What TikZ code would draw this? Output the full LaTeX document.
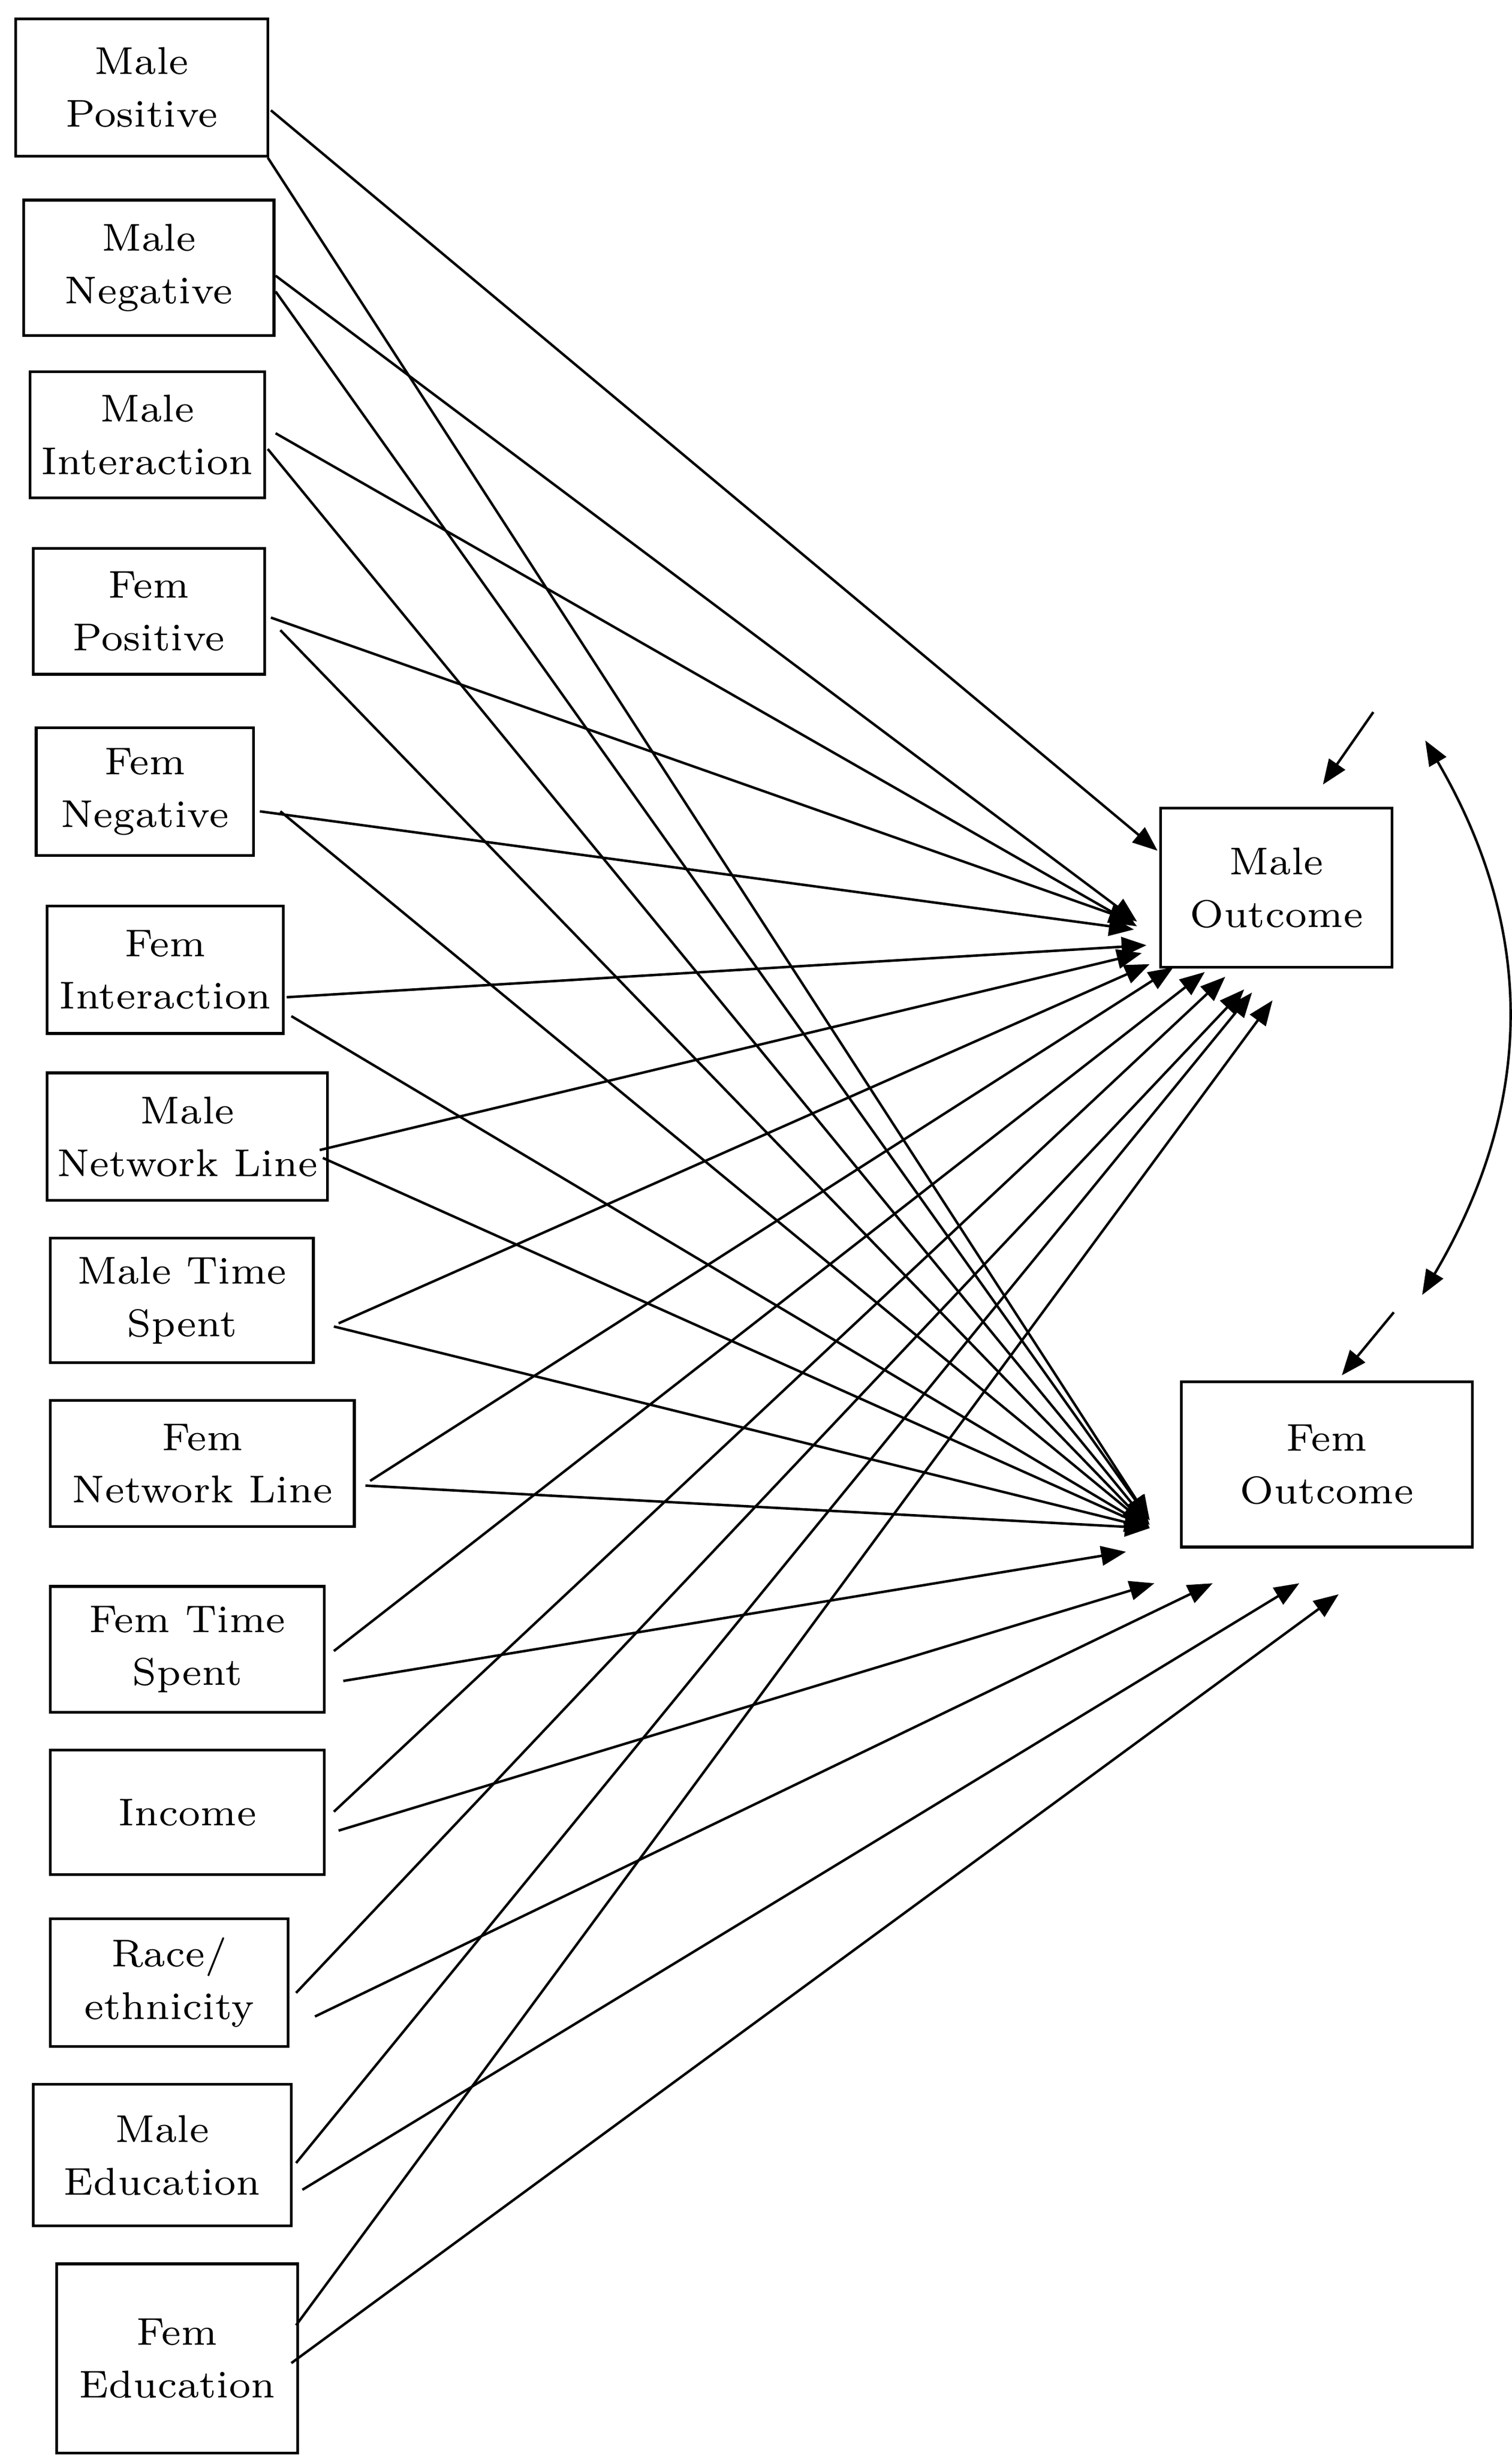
\documentclass[tikz,border=0pt]{standalone}
\usetikzlibrary{arrows.meta}
\begin{document}
\begin{tikzpicture}[x=0.01cm,y=-0.01cm,
  box/.style={draw,line width=0.5pt,align=center,inner sep=0pt,font=\fontsize{7}{9.5}\selectfont},
  arr/.style={-{Triangle[length=4.5pt,width=3.5pt]},line width=0.45pt}]
\useasboundingbox (0,0) rectangle (960,1559);
\foreach \n/\x/\y/\w/\h/\t in {
 a/90/55.5/160/87/{Male\\Positive},
 b/94.5/170/159/86/{Male\\Negative},
 c/93.5/276/149/80/{Male\\Interaction},
 d/94.5/388/147/80/{Fem\\Positive},
 e/92/502.5/138/81/{Fem\\Negative},
 f/105/615.5/150/81/{Fem\\Interaction},
 g/119/721.5/178/81/{Male\\Network Line},
 h/115.5/825.5/167/79/{Male Time\\Spent},
 i/128.5/929/193/80/{Fem\\Network Line},
 j/119/1047/174/80/{Fem Time\\Spent},
 k/119/1150.5/174/79/{Income},
 l/107.5/1258.5/151/81/{Race/\\ethnicity},
 m/103/1368/164/90/{Male\\Education},
 n/112.5/1497/153/120/{Fem\\Education},
 mo/810.5/563.5/147/101/{Male\\Outcome},
 fo/842.5/929.5/185/105/{Fem\\Outcome}}
 \node[box,minimum width=\w*0.01cm,minimum height=\h*0.01cm] (\n) at (\x,\y) {\t};
% to Male Outcome
\foreach \sx/\sy/\ex/\ey in {172/70/735/540, 175/175/722/585, 175/275/722/588, 172/392/720/585,
 165/515/720/590, 182/633/728/600, 203/730/725/605, 215/840/730/612, 235/940/745/614,
 212/1048/765/617, 212/1150/778/620, 188/1265/790/628, 188/1373/795/630, 188/1476/808/635}
 \draw[arr] (\sx,\sy) coordinate (s) -- (\ex,\ey) coordinate (t);
% to Fem Outcome
\foreach \sx/\sy/\ex/\ey in {170/100/730/965, 175/185/730/965, 170/285/730/968, 178/400/730/970,
 178/515/728/968, 185/645/730/970, 205/735/730/970, 212/842/730/970, 232/943/730/970,
 218/1067/715/985, 215/1162/733/1005, 200/1280/770/1005, 192/1390/825/1005, 185/1500/850/1012}
 \draw[arr] (\sx,\sy) coordinate (s) -- (\ex,\ey) coordinate (t);
\coordinate (d1) at (872,452); \coordinate (d2) at (885,833);
\draw[arr] (d1) -- (840,498);
\draw[arr] (d2) -- (852,873);
\coordinate (c1) at (905,470); \coordinate (c2) at (903,822);
\draw[{Triangle[length=4.5pt,width=3.5pt]}-{Triangle[length=4.5pt,width=3.5pt]},line width=0.45pt]
 (c1) .. controls (975,590) and (975,700) .. (c2);
\end{tikzpicture}
\end{document}
